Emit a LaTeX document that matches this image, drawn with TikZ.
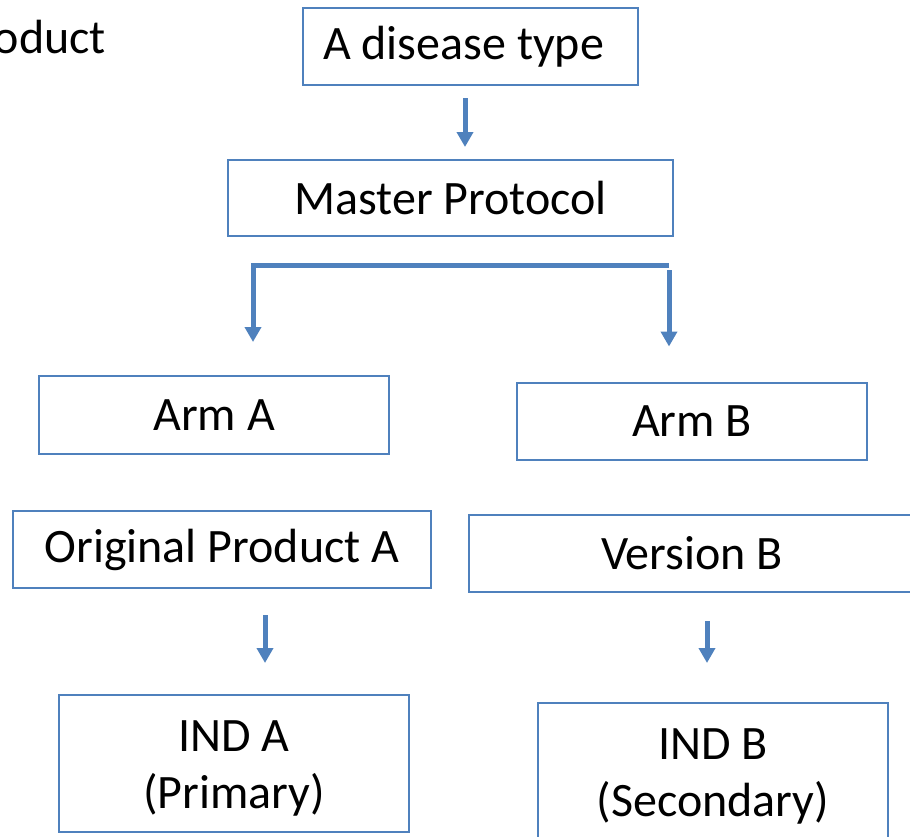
\documentclass[tikz,border=0pt]{standalone}
\usepackage{fontspec}
\setmainfont{Carlito}
\usepackage{tikz}
\usetikzlibrary{arrows.meta,calc}
\definecolor{boxline}{RGB}{79,129,189}
\definecolor{arwfill}{RGB}{79,129,189}
\tikzset{
  bx/.style  ={draw=boxline, line width=2pt, inner sep=0pt, align=center,
               font=\fontsize{48}{57}\selectfont},
  lab/.style ={font=\fontsize{48}{57}\selectfont, inner sep=0pt},
  arw/.style ={draw=arwfill, line width=5pt, line cap=butt,
               -{Triangle[length=15pt,width=16pt]}},
}
\begin{document}
\begin{tikzpicture}[x=1pt,y=-1pt]
  \useasboundingbox (0,0) rectangle (910,836);
  \clip (0,0) rectangle (910,836);
  \node[lab,anchor=base west] (prod) at (-47,53) {Product};
  \node[bx,minimum width=335,minimum height=77] (dis) at (470.5,46.7) {A disease type\hspace*{14pt}};
  \node[bx,minimum width=445,minimum height=76] (mast) at (450.5,198) {Master Protocol};
  \node[bx,minimum width=350,minimum height=78] (armA) at (214,415) {Arm A};
  \node[bx,minimum width=350,minimum height=77] (armB) at (692,421) {Arm B};
  \node[bx,minimum width=418,minimum height=77.5] (origA) at (222,549.5) {Original Product A};
  \node[bx,minimum width=446,minimum height=77] (verB) at (692,553) {Version B};
  \node[bx,minimum width=350,minimum height=137] (indA) at (234,763.5) {\rule{0pt}{41pt}IND A\\(Primary)};
  \node[bx,minimum width=350,minimum height=137] (indB) at (713,771.5) {\rule{0pt}{41pt}IND B\\(Secondary)};
  \coordinate (disout) at ($(dis.south)+(-5.5,12)$);
  \coordinate (mastin) at ($(mast.north)+(14.5,-12)$);
  \coordinate (brR) at ($(mast.south)+(218.5,28)$);
  \coordinate (brL) at ($(mast.south)+(-197.5,28)$);
  \coordinate (armAin) at ($(armA.north)+(39,-33)$);
  \coordinate (brRout) at ($(mast.south)+(218.5,33)$);
  \coordinate (armBin) at ($(armB.north)+(-23,-35)$);
  \coordinate (origAout) at ($(origA.south)+(43,26)$);
  \coordinate (indAin) at ($(indA.north)+(31,-31)$);
  \coordinate (verBout) at ($(verB.south)+(15,28.5)$);
  \coordinate (indBin) at ($(indB.north)+(-6,-39)$);
  \draw[arw] (disout) -- (mastin);
  \draw[arw] (brR) -- (brL) -- (armAin);
  \draw[arw] (brRout) -- (armBin);
  \draw[arw] (origAout) -- (indAin);
  \draw[arw] (verBout) -- (indBin);
\end{tikzpicture}
\end{document}
